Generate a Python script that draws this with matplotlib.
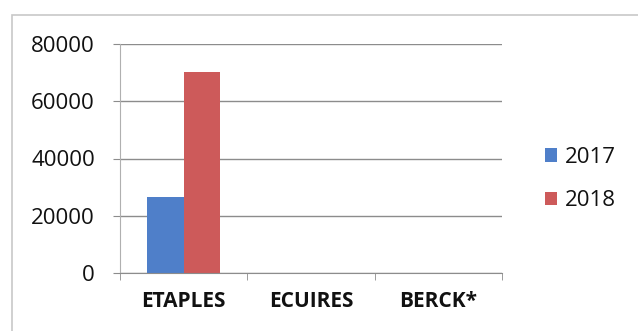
import numpy as np
import matplotlib.pyplot as plt
from matplotlib.patches import Rectangle

# Données
categories = ["ETAPLES", "ECUIRES", "BERCK*"]
val_2017 = [26500, 0, 0]
val_2018 = [70200, 0, 0]
series_labels = ["2017", "2018"]
y_ticks = [0, 20000, 40000, 60000, 80000]

blue = "#4f7fc9"
red = "#cd5a5a"
grid_col = "#8c8c8c"

plt.rcParams['font.family'] = ['Open Sans', 'DejaVu Sans']

fig = plt.figure(figsize=(6.38, 3.31), dpi=100)
W, H = 638, 331

# cadre du graphique (coupé à droite et en bas)
fig.patches.append(Rectangle((12 / W, -0.1), 1.1, 1 - 15 / H + 0.1,
                             transform=fig.transFigure, fill=False,
                             edgecolor="#c8c8c8", linewidth=1.2))

ax = fig.add_axes([120 / W, 1 - 273 / H, (502 - 120) / W, (273 - 44) / H])

x = np.arange(len(categories))
bw = 0.285
ax.bar(x - bw / 2, val_2017, bw, color=blue, label=series_labels[0])
ax.bar(x + bw / 2, val_2018, bw, color=red, label=series_labels[1])

ax.set_xlim(-0.5, len(categories) - 0.5)
ax.set_ylim(0, 80000)
ax.set_yticks(y_ticks)
ax.set_yticklabels([str(v) for v in y_ticks], fontsize=16, color="#111111")
ax.yaxis.grid(True, color=grid_col, linewidth=1.0)
ax.set_axisbelow(True)

ax.set_xticks(x)
ax.set_xticklabels(categories, fontsize=15, fontweight="bold", color="#111111")
ax.tick_params(axis="x", length=0, pad=13)
ax.set_xticks(np.arange(-0.5, len(categories)), minor=True)
ax.tick_params(axis="x", which="minor", length=5, color=grid_col, direction="out")
ax.tick_params(axis="y", length=5, color=grid_col, pad=13)

for s in ["top", "right"]:
    ax.spines[s].set_visible(False)
ax.spines["left"].set_color("#b0b0b0")
ax.spines["bottom"].set_color(grid_col)

leg = ax.legend(loc="center left", bbox_to_anchor=(1.09, 0.41), frameon=False,
                fontsize=16, handlelength=0.55, handleheight=0.55, handletextpad=0.35,
                labelspacing=1.0, borderaxespad=0)
for t in leg.get_texts():
    t.set_color("#111111")

fig.savefig("out.png", dpi=100)
